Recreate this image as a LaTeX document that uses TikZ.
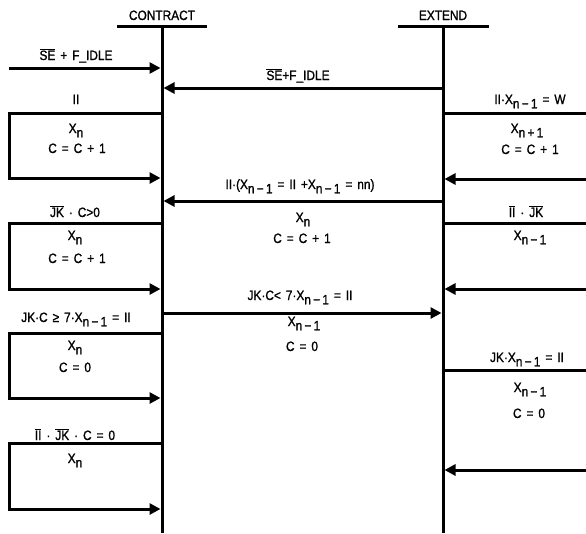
\documentclass[tikz,border=0pt]{standalone}
\usepackage{fontspec}
\setmainfont{Liberation Sans}[FakeStretch=0.88, FakeBold=1.2, WordSpace=1.5]
\usetikzlibrary{arrows.meta}
\newcommand{\ovl}[1]{$\overline{\hbox{#1}}$}
\newcommand{\dn}[1]{\raisebox{-0.6ex}{#1}}
\begin{document}
\begin{tikzpicture}[x=1pt,y=-1pt,
  every node/.style={font=\fontsize{13.5}{15}\selectfont, inner sep=0pt},
  lbl/.style={anchor=base},
  heavy/.style={line width=3pt, line join=miter},
  msg/.style={heavy, -{Triangle[length=11pt,width=11pt]}, shorten >=1.5pt}]
\useasboundingbox (0,0) rectangle (586,533);
% lifelines
\coordinate (CT) at (162,26); \coordinate (CB) at (162,533);
\coordinate (ET) at (443,26); \coordinate (EB) at (443,533);
\coordinate (L) at (9,0); \coordinate (R) at (586,0);
\draw[heavy] (CT) -- (CB);
\draw[heavy] (ET) -- (EB);
\draw[heavy] ([xshift=-45pt]CT) -- ([xshift=45pt]CT);
\draw[heavy] ([xshift=-45pt]ET) -- ([xshift=46pt]ET);
\node[lbl] (tC) at (162,20) {CONTRACT};
\node[lbl] (tE) at (443,20) {EXTEND};
% message 1
\coordinate (m1) at (9,68);
\draw[msg] (m1) -- (m1 -| CT);
\node[lbl] (l1) at (76,60) {\ovl{SE} + F\_IDLE};
% message 2
\coordinate (m2) at (0,88);
\draw[msg] (ET |- m2) -- (CT |- m2);
\node[lbl] (l2) at (298,80) {\ovl{SE}+F\_IDLE};
% left loop 1
\coordinate (a1) at (0,113); \coordinate (b1) at (0,178);
\draw[msg] (CT |- a1) -- (L |- a1) -- (L |- b1) -- (CT |- b1);
\node[lbl] (l3) at (76,104) {II};
\node[lbl] (t3a) at (76,133) {X\dn{n}};
\node[lbl] (t3b) at (77,153) {C = C + 1};
% right loop 1
\coordinate (c1) at (0,113); \coordinate (d1) at (0,179);
\draw[heavy] (ET |- c1) -- (R |- c1);
\draw[msg] (R |- d1) -- (ET |- d1);
\node[lbl] (l4) at (530,104) {II·X\dn{n\,−\,1} = W};
\node[lbl] (t4a) at (527,133) {X\dn{n\,+\,1}};
\node[lbl] (t4b) at (530,154) {C = C + 1};
% message 3
\coordinate (m3) at (0,201);
\draw[msg] (ET |- m3) -- (CT |- m3);
\node[lbl] (l5) at (300,189) {II·(X\dn{n\,−\,1} = II +X\dn{n\,−\,1} = nn)};
\node[lbl] (t5a) at (303,222) {X\dn{n}};
\node[lbl] (t5b) at (302,243) {C = C + 1};
% left loop 2
\coordinate (a2) at (0,223); \coordinate (b2) at (0,289);
\draw[msg] (CT |- a2) -- (L |- a2) -- (L |- b2) -- (CT |- b2);
\node[lbl] (l6) at (75,217) {\ovl{JK} · C>0};
\node[lbl] (t6a) at (75,240) {X\dn{n}};
\node[lbl] (t6b) at (77,263) {C = C + 1};
% right loop 2
\coordinate (c2) at (0,223); \coordinate (d2) at (0,289);
\draw[heavy] (ET |- c2) -- (R |- c2);
\draw[msg] (R |- d2) -- (ET |- d2);
\node[lbl] (l7) at (526,217) {\ovl{II} · \ovl{JK}};
\node[lbl] (t7a) at (530,240) {X\dn{n\,−\,1}};
% message 4
\coordinate (m4) at (0,313);
\draw[msg] (CT |- m4) -- (ET |- m4);
\node[lbl] (l8) at (300,300) {JK·C< 7·X\dn{n\,−\,1} = II};
\node[lbl] (t8a) at (304,326) {X\dn{n\,−\,1}};
\node[lbl] (t8b) at (302,351) {C = 0};
% left loop 3
\coordinate (a3) at (0,333); \coordinate (b3) at (0,398);
\draw[msg] (CT |- a3) -- (L |- a3) -- (L |- b3) -- (CT |- b3);
\node[lbl] (l9) at (76,322) {JK·C ≥ 7·X\dn{n\,−\,1} = II};
\node[lbl] (t9a) at (75,350) {X\dn{n}};
\node[lbl] (t9b) at (75,372) {C = 0};
% right loop 3
\coordinate (c3) at (0,370); \coordinate (d3) at (0,470);
\draw[heavy] (ET |- c3) -- (R |- c3);
\draw[msg] (R |- d3) -- (ET |- d3);
\node[lbl] (l10) at (527,362) {JK·X\dn{n\,−\,1} = II};
\node[lbl] (t10a) at (530,392) {X\dn{n\,−\,1}};
\node[lbl] (t10b) at (529,418) {C = 0};
% left loop 4
\coordinate (a4) at (0,443); \coordinate (b4) at (0,509);
\draw[msg] (CT |- a4) -- (L |- a4) -- (L |- b4) -- (CT |- b4);
\node[lbl] (l11) at (75,440) {\ovl{II} · \ovl{JK} · C = 0};
\node[lbl] (t11a) at (75,463) {X\dn{n}};
\end{tikzpicture}
\end{document}
